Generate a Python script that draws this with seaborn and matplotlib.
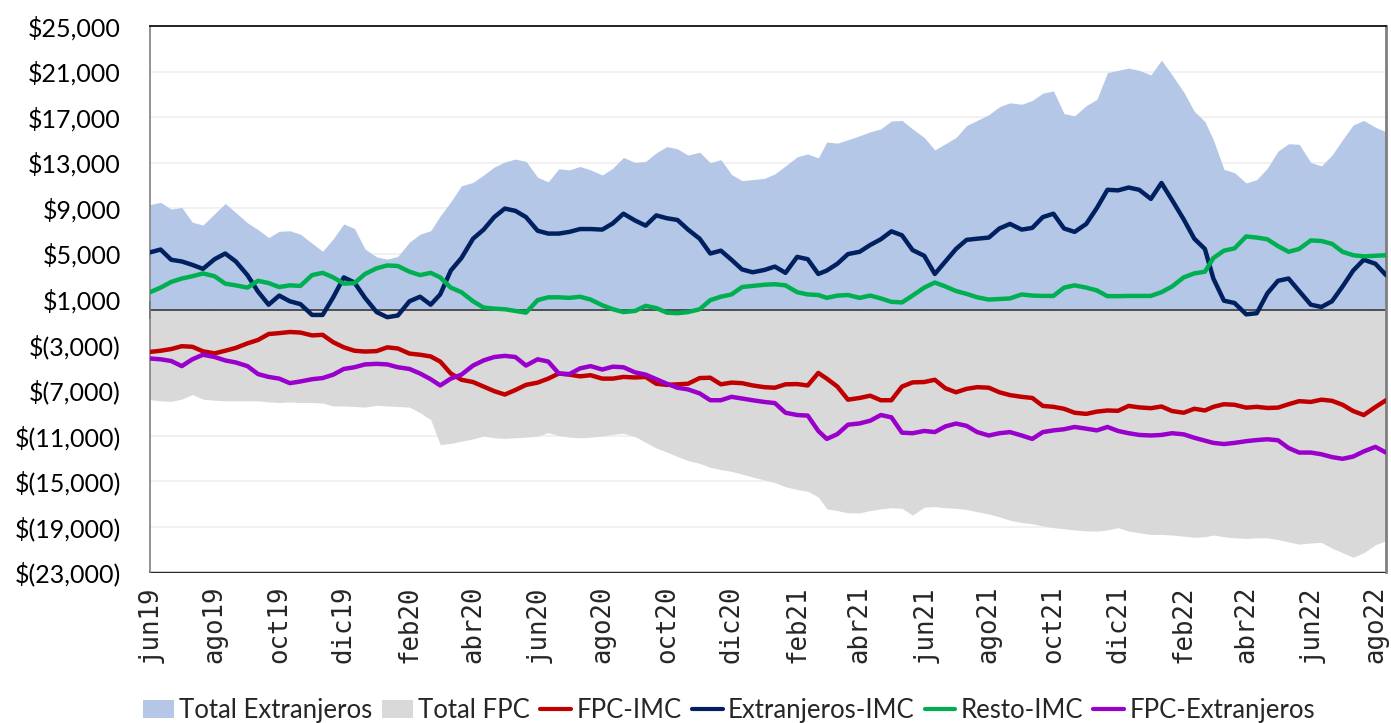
import matplotlib
matplotlib.use("Agg")
import matplotlib.pyplot as plt
import matplotlib.dates as mdates
from matplotlib.patches import Patch
from matplotlib.lines import Line2D
import pandas as pd
import seaborn as sns

# Observation dates: 1st, 11th and 21st of each month, Jun-2019 to Aug-2022
months = pd.date_range("2019-06-01", "2022-07-01", freq="MS")
fechas = [m + pd.Timedelta(days=d) for m in months for d in (0, 10, 20)]
fechas += [pd.Timestamp("2022-08-01"), pd.Timestamp("2022-08-11")]

total_extranjeros = [
    9300, 9500, 8900, 9050, 7750, 7500, 8500, 9400, 8600, 7700, 7100, 6400,
    6950, 7000, 6700, 5900, 5200, 6300, 7600, 7200, 5400, 4700, 4500, 4750,
    6000, 6700, 7000, 8300, 9550, 10950, 11250, 11900, 12600, 13050, 13300, 13100,
    11700, 11300, 12450, 12350, 12650, 12350, 11900, 12500, 13450, 13000, 13100, 13850,
    14400, 14200, 13650, 13900, 12980, 13250, 11950, 11400, 11500, 11600, 12000, 12700,
    13500, 13750, 13400, 14800, 14700, 15000, 15350, 15700, 15950, 16650, 16700, 15950,
    15200, 14100, 14650, 15200, 16250, 16700, 17200, 17900, 18250, 18120, 18450, 19100,
    19300, 17300, 17100, 18000, 18550, 20900, 21100, 21300, 21100, 20700, 22000, 20700,
    19200, 17500, 16600, 15000, 12400, 12100, 11200, 11500, 12500, 14000, 14650, 14600,
    13000, 12700, 13650, 15000, 16300, 16700, 16100, 15700,
]
total_fpc = [
    -7850, -7950, -8000, -7800, -7400, -7800, -7900, -7950, -7950, -7950, -7950, -8050,
    -8100, -8050, -8100, -8100, -8150, -8400, -8400, -8450, -8500, -8350, -8400, -8450,
    -8500, -9000, -9600, -11800, -11700, -11500, -11300, -11050, -11200, -11250, -11200, -11150,
    -11050, -10750, -11000, -11150, -11200, -11150, -11050, -10900, -10800, -11100, -11600, -12100,
    -12450, -12850, -13200, -13450, -13800, -14000, -14150, -14400, -14650, -14900, -15150, -15500,
    -15750, -15900, -16400, -17450, -17600, -17800, -17800, -17600, -17450, -17350, -17400, -18000,
    -17300, -17250, -17350, -17400, -17500, -17700, -17900, -18150, -18450, -18650, -18750, -18950,
    -19100, -19200, -19300, -19380, -19400, -19300, -19100, -19400, -19550, -19700, -19700, -19750,
    -19850, -19950, -19900, -19750, -19900, -20000, -20050, -20000, -20000, -20150, -20350, -20550,
    -20450, -20400, -20900, -21300, -21700, -21300, -20600, -20250,
]
fpc_imc = [
    -3650, -3550, -3400, -3150, -3200, -3600, -3780, -3550, -3300, -2900, -2600, -2080,
    -2000, -1900, -1950, -2200, -2150, -2800, -3250, -3550, -3620, -3580, -3250, -3350,
    -3800, -3900, -4050, -4500, -5550, -6100, -6300, -6700, -7100, -7400, -7000, -6550,
    -6350, -6000, -5550, -5650, -5800, -5700, -6000, -6000, -5850, -5900, -5850, -6450,
    -6550, -6500, -6450, -5950, -5920, -6500, -6350, -6400, -6600, -6750, -6800, -6500,
    -6480, -6600, -5500, -6000, -6700, -7850, -7700, -7500, -7900, -7900, -6700, -6330,
    -6300, -6100, -6850, -7200, -6900, -6750, -6800, -7200, -7450, -7600, -7700, -8400,
    -8480, -8650, -9000, -9100, -8900, -8800, -8830, -8400, -8530, -8600, -8450, -8850,
    -9000, -8650, -8800, -8480, -8250, -8300, -8550, -8480, -8580, -8550, -8250, -7980,
    -8050, -7850, -7950, -8300, -8850, -9200, -8500, -7900,
]
extranjeros_imc = [
    5100, 5350, 4450, 4300, 4000, 3650, 4500, 5000, 4300, 3100, 1650, 500,
    1300, 800, 550, -400, -400, 1150, 2900, 2450, 1100, -150, -600, -450,
    800, 1200, 500, 1400, 3500, 4600, 6300, 7100, 8200, 8950, 8750, 8200,
    7000, 6750, 6750, 6900, 7150, 7150, 7100, 7650, 8500, 7900, 7450, 8350,
    8100, 7950, 7100, 6300, 5000, 5250, 4450, 3600, 3350, 3550, 3850, 3300,
    4700, 4500, 3200, 3500, 4100, 4950, 5150, 5750, 6250, 6950, 6600, 5300,
    4800, 3200, 4300, 5400, 6200, 6300, 6400, 7200, 7600, 7100, 7250, 8200,
    8500, 7200, 6900, 7600, 9000, 10600, 10550, 10800, 10600, 9800, 11200, 9700,
    8000, 6300, 5400, 2800, 850, 650, -350, -250, 1500, 2600, 2800, 1700,
    500, 300, 800, 2100, 3500, 4450, 4100, 3100,
]
resto_imc = [
    1600, 2000, 2500, 2800, 3000, 3250, 3000, 2350, 2200, 2000, 2600, 2400,
    2050, 2200, 2150, 3100, 3300, 2900, 2350, 2400, 3200, 3700, 3950, 3900,
    3400, 3100, 3300, 2900, 2000, 1600, 800, 250, 150, 100, -50, -200,
    900, 1150, 1150, 1100, 1200, 950, 450, 100, -150, -50, 400, 200,
    -200, -250, -150, 100, 900, 1200, 1400, 2050, 2150, 2250, 2300, 2200,
    1600, 1400, 1350, 1100, 1300, 1350, 1100, 1300, 1050, 750, 700, 1300,
    2000, 2450, 2100, 1700, 1450, 1150, 950, 1000, 1050, 1400, 1300, 1270,
    1270, 2000, 2200, 2000, 1750, 1250, 1250, 1270, 1270, 1270, 1600, 2100,
    2900, 3250, 3400, 4600, 5250, 5450, 6500, 6400, 6250, 5650, 5150, 5400,
    6150, 6100, 5850, 5150, 4850, 4750, 4800, 4850,
]
fpc_extranjeros = [
    -4230, -4300, -4450, -4900, -4300, -3900, -4100, -4400, -4580, -4900, -5600, -5850,
    -6000, -6400, -6250, -6050, -5950, -5650, -5150, -5000, -4750, -4700, -4750, -5000,
    -5150, -5550, -6050, -6600, -6000, -5650, -4850, -4400, -4100, -4000, -4100, -4850,
    -4300, -4500, -5550, -5600, -5100, -4900, -5200, -4950, -5000, -5450, -5650, -6050,
    -6450, -6800, -6950, -7300, -7900, -7900, -7600, -7750, -7900, -8050, -8150, -9000,
    -9200, -9250, -10600, -11300, -10880, -10050, -9940, -9700, -9200, -9400, -10750, -10800,
    -10600, -10700, -10200, -9950, -10150, -10700, -11000, -10800, -10700, -11000, -11300, -10700,
    -10550, -10450, -10250, -10400, -10550, -10250, -10600, -10800, -10950, -11000, -10950, -10800,
    -10900, -11200, -11450, -11650, -11750, -11650, -11500, -11400, -11330, -11420, -12100, -12500,
    -12500, -12650, -12900, -13050, -12850, -12400, -12000, -12500,
]

tick_fechas = pd.date_range("2019-06-01", "2022-08-01", freq="2MS")
tick_labels = ["jun19", "ago19", "oct19", "dic19", "feb20", "abr20", "jun20",
               "ago20", "oct20", "dic20", "feb21", "abr21", "jun21", "ago21",
               "oct21", "dic21", "feb22", "abr22", "jun22", "ago22"]
y_ticks = list(range(-23000, 25001, 4000))

area_names = ["Total Extranjeros", "Total FPC"]
area_colors = ["#B4C7E7", "#D9D9D9"]
line_names = ["FPC-IMC", "Extranjeros-IMC", "Resto-IMC", "FPC-Extranjeros"]
line_colors = ["#C00000", "#002060", "#00B050", "#9900CC"]

df = pd.DataFrame({
    "fecha": fechas,
    "Total Extranjeros": total_extranjeros,
    "Total FPC": total_fpc,
    "FPC-IMC": fpc_imc,
    "Extranjeros-IMC": extranjeros_imc,
    "Resto-IMC": resto_imc,
    "FPC-Extranjeros": fpc_extranjeros,
})
largo = df.melt(id_vars="fecha", value_vars=line_names, var_name="serie", value_name="valor")

sns.set_theme(style="white")
plt.rcParams["font.family"] = ["Lato", "DejaVu Sans"]

W, H = 1391, 723
fig = plt.figure(figsize=(W / 100, H / 100), dpi=100)
ax = fig.add_axes([150 / W, 1 - 572 / H, (1386 - 150) / W, (572 - 26) / H])

# areas above and below zero
for name, col in zip(area_names, area_colors):
    ax.fill_between(df["fecha"], 0, df[name], color=col, lw=0, zorder=1)

sns.lineplot(data=largo, x="fecha", y="valor", hue="serie", hue_order=line_names,
             palette=line_colors, linewidth=3.2, legend=False, ax=ax, zorder=3)

x0, x1 = pd.Timestamp("2019-06-01"), pd.Timestamp("2022-08-11")
ax.set_xlim(x0, x1)
ax.set_ylim(-23000, 25000)
ax.set_xlabel("")
ax.set_ylabel("")

# y axis: currency with negatives in parentheses
ax.set_yticks(y_ticks)
ax.set_yticklabels([f"${v:,}" if v >= 0 else f"$({abs(v):,})" for v in y_ticks],
                   fontsize=18, color="#000000")
ax.tick_params(axis="y", length=0, pad=21)
ax.yaxis.grid(True, color="#EFEFEF", lw=1.2)
ax.set_axisbelow(True)

# zero line carries the date tick marks
ax.spines["bottom"].set_position(("data", 0))
ax.spines["bottom"].set_color("#3A3A3A")
ax.spines["bottom"].set_linewidth(1.2)
ax.spines["bottom"].set_zorder(2)
ax.set_xticks(tick_fechas)
ax.tick_params(axis="x", direction="inout", length=13, width=1.2, color="#262626",
               labelbottom=False, bottom=True)

ax.spines["top"].set_color("#000000")
ax.spines["top"].set_linewidth(1.2)
ax.spines["left"].set_color("#808080")
ax.spines["left"].set_linewidth(1.2)
ax.spines["right"].set_color("#7F7F7F")
ax.spines["right"].set_linewidth(2)

# date labels below the plot frame
sec = ax.secondary_xaxis("bottom")
sec.set_xticks(mdates.date2num(tick_fechas))
sec.set_xticklabels(tick_labels, rotation=90, fontsize=18.5, family="DejaVu Sans Mono")
sec.tick_params(axis="x", length=0, pad=10)
sec.spines["bottom"].set_color("#000000")
sec.spines["bottom"].set_linewidth(1.2)

handles = [Patch(facecolor=c, edgecolor="none") for c in area_colors]
handles += [Line2D([], [], color=c, lw=3) for c in line_colors]
fig.legend(handles, area_names + line_names, loc="center", bbox_to_anchor=(0.524, 0.017),
           ncol=6, frameon=False, fontsize=18.5, handlelength=1.2, handletextpad=0.2,
           columnspacing=0.4, borderaxespad=0, borderpad=0)

fig.savefig("out.png", dpi=100)
